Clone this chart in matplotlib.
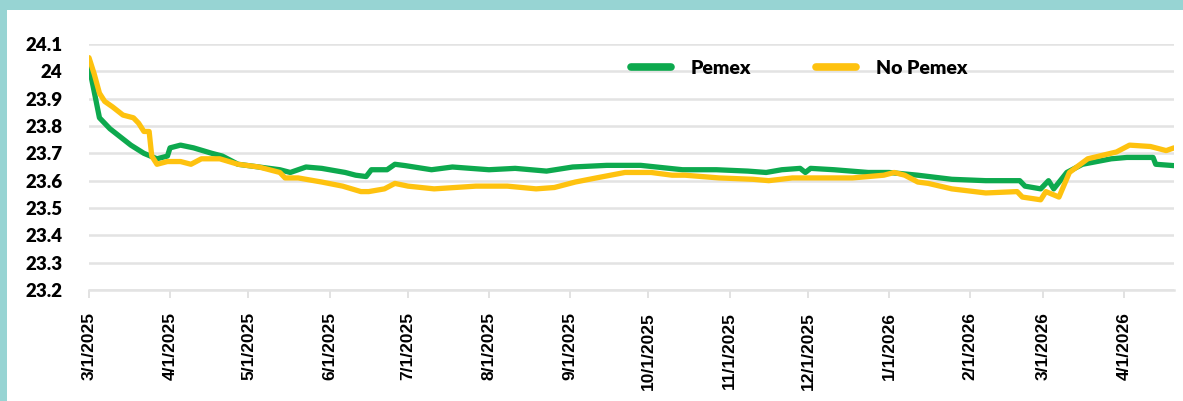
import matplotlib
matplotlib.use("Agg")
from matplotlib import pyplot as plt
from matplotlib.patches import Rectangle
from matplotlib.ticker import FuncFormatter
import matplotlib.dates as mdates
import pandas as pd

# values
pemex_dates = ['2025-03-01', '2025-03-05', '2025-03-09', '2025-03-13', '2025-03-17', '2025-03-22',
               '2025-03-27', '2025-03-31', '2025-04-01', '2025-04-05', '2025-04-10', '2025-04-17',
               '2025-04-21', '2025-04-27', '2025-05-05', '2025-05-13', '2025-05-17', '2025-05-23',
               '2025-05-29', '2025-06-07', '2025-06-11', '2025-06-15', '2025-06-17', '2025-06-23',
               '2025-06-26', '2025-06-30', '2025-07-10', '2025-07-18', '2025-08-01', '2025-08-11',
               '2025-08-23', '2025-09-02', '2025-09-15', '2025-09-28', '2025-10-09', '2025-10-14',
               '2025-10-27', '2025-11-08', '2025-11-15', '2025-11-21', '2025-11-28', '2025-11-30',
               '2025-12-02', '2025-12-11', '2025-12-24', '2026-01-01', '2026-01-12', '2026-01-25',
               '2026-02-07', '2026-02-20', '2026-02-22', '2026-02-28', '2026-03-03', '2026-03-05',
               '2026-03-10', '2026-03-16', '2026-03-27', '2026-04-02', '2026-04-12', '2026-04-13',
               '2026-04-20']
pemex = [24.02, 23.83, 23.79, 23.76, 23.73, 23.70,
         23.68, 23.69, 23.72, 23.73, 23.72, 23.70,
         23.69, 23.66, 23.65, 23.64, 23.63, 23.65,
         23.645, 23.63, 23.62, 23.615, 23.64, 23.64,
         23.66, 23.655, 23.64, 23.65, 23.64, 23.645,
         23.635, 23.65, 23.656, 23.656, 23.645, 23.64,
         23.64, 23.635, 23.63, 23.64, 23.645, 23.63,
         23.645, 23.64, 23.63, 23.63, 23.62, 23.605,
         23.60, 23.60, 23.58, 23.57, 23.60, 23.57,
         23.63, 23.66, 23.68, 23.685, 23.685, 23.66,
         23.655]

no_pemex_dates = ['2025-03-01', '2025-03-03', '2025-03-05', '2025-03-07', '2025-03-10', '2025-03-14',
                  '2025-03-18', '2025-03-20', '2025-03-22', '2025-03-24', '2025-03-25', '2025-03-27',
                  '2025-03-31', '2025-04-05', '2025-04-09', '2025-04-13', '2025-04-20', '2025-04-27',
                  '2025-05-05', '2025-05-13', '2025-05-15', '2025-05-20', '2025-05-29', '2025-06-06',
                  '2025-06-13', '2025-06-16', '2025-06-22', '2025-06-26', '2025-07-01', '2025-07-11',
                  '2025-07-27', '2025-08-08', '2025-08-19', '2025-08-26', '2025-09-03', '2025-09-11',
                  '2025-09-22', '2025-10-02', '2025-10-10', '2025-10-15', '2025-10-28', '2025-11-10',
                  '2025-11-16', '2025-11-25', '2025-12-05', '2025-12-18', '2025-12-30', '2026-01-03',
                  '2026-01-07', '2026-01-12', '2026-01-16', '2026-01-25', '2026-02-07', '2026-02-19',
                  '2026-02-21', '2026-02-28', '2026-03-02', '2026-03-07', '2026-03-11', '2026-03-18',
                  '2026-03-29', '2026-04-03', '2026-04-11', '2026-04-17', '2026-04-20']
no_pemex = [24.05, 23.99, 23.92, 23.89, 23.87, 23.84,
            23.83, 23.81, 23.78, 23.78, 23.69, 23.66,
            23.67, 23.67, 23.66, 23.68, 23.68, 23.66,
            23.65, 23.63, 23.61, 23.61, 23.595, 23.58,
            23.56, 23.56, 23.57, 23.59, 23.58, 23.57,
            23.58, 23.58, 23.57, 23.575, 23.595, 23.61,
            23.63, 23.63, 23.62, 23.62, 23.61, 23.605,
            23.60, 23.61, 23.61, 23.61, 23.62, 23.63,
            23.62, 23.595, 23.59, 23.57, 23.555, 23.56,
            23.54, 23.53, 23.56, 23.54, 23.63, 23.68,
            23.705, 23.73, 23.725, 23.71, 23.72]

y_ticks = [23.2, 23.3, 23.4, 23.5, 23.6, 23.7, 23.8, 23.9, 24.0, 24.1]
month_ticks = pd.date_range('2025-03-01', '2026-04-01', freq='MS')

green = '#0DA94E'
yellow = '#FEC20F'
teal = '#97D4D3'

fig = plt.figure(figsize=(11.83, 4.01), dpi=100)
fig.patch.set_facecolor(teal)
# white card inside the teal frame
fig.patches.append(Rectangle((7 / 1183, 0), 1 - 7 / 1183, 1 - 10 / 401,
                             transform=fig.transFigure, facecolor='white',
                             edgecolor='none', zorder=-5))

ax = fig.add_axes([89 / 1183, 111 / 401, 1085 / 1183, 246 / 401])
ax.set_facecolor('none')

ax.plot(pd.to_datetime(pemex_dates), pemex, color=green, lw=3.8,
        solid_joinstyle='round', solid_capstyle='round', label='Pemex', zorder=3)
ax.plot(pd.to_datetime(no_pemex_dates), no_pemex, color=yellow, lw=3.8,
        solid_joinstyle='round', solid_capstyle='round', label='No Pemex', zorder=4)

ax.set_ylim(23.2, 24.1)
ax.set_xlim(pd.Timestamp('2025-03-01'), pd.Timestamp('2026-04-20'))

ax.set_yticks(y_ticks)
ax.yaxis.set_major_formatter(FuncFormatter(lambda v, p: f'{v:g}'))
ax.tick_params(axis='y', length=0, pad=19)
for lab in ax.get_yticklabels():
    lab.set_fontfamily('Lato')
    lab.set_fontweight('heavy')
    lab.set_fontsize(13.5)
ax.grid(axis='y', color='#e3e3e3', lw=1.8)
ax.set_axisbelow(True)

ax.set_xticks(mdates.date2num(month_ticks))
ax.xaxis.set_major_formatter(FuncFormatter(
    lambda v, p: (lambda d: f'{d.month}/{d.day}/{d.year}')(mdates.num2date(v))))
ax.tick_params(axis='x', length=6, width=1.2, color='#dddddd', pad=10)
for lab in ax.get_xticklabels():
    lab.set_rotation(90)
    lab.set_fontfamily('Liberation Sans')
    lab.set_fontweight('bold')
    lab.set_fontsize(12.5)

for side in ['top', 'right', 'left']:
    ax.spines[side].set_visible(False)
ax.spines['bottom'].set_color('#e3e3e3')
ax.spines['bottom'].set_linewidth(1.8)

leg = ax.legend(loc='center', bbox_to_anchor=(799 / 1183, 333 / 401),
                bbox_transform=fig.transFigure, ncol=2, frameon=False,
                handlelength=2.1, handletextpad=1.0, columnspacing=3.3,
                prop={'family': 'Lato', 'weight': 'heavy', 'size': 14})
for line in leg.get_lines():
    line.set_linewidth(5.5)
    line.set_solid_capstyle('round')

fig.savefig('out.png', dpi=100, facecolor=fig.get_facecolor())
